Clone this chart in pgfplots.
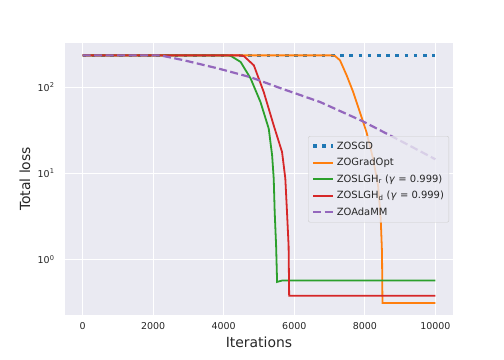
\documentclass[border=0pt]{standalone}
\usepackage{pgfplots}
\pgfplotsset{compat=1.18}
\usepackage{fontspec}
\setmainfont{DejaVu Sans}

\definecolor{bgcol}{HTML}{EAEAF2}
\definecolor{txt}{HTML}{262626}
\definecolor{c1}{HTML}{1F77B4}
\definecolor{c2}{HTML}{FF7F0E}
\definecolor{c3}{HTML}{2CA02C}
\definecolor{c4}{HTML}{D62728}
\definecolor{c5}{HTML}{9467BD}

\begin{document}
\begin{tikzpicture}
\path[use as bounding box] (0,0) rectangle (504bp,360bp);
\begin{axis}[
    at={(65bp,45bp)}, anchor=south west,
    scale only axis,
    width=388bp, height=272bp,
    ymode=log,
    xmin=-500, xmax=10500,
    ymin=0.227, ymax=327,
    xtick={0,2000,4000,6000,8000,10000},
    ytick={1,10,100},
    yticklabels={10\textsuperscript{0},10\textsuperscript{1},10\textsuperscript{2}},
    minor ytick={},
    scaled x ticks=false,
    /pgf/number format/assume math mode=true,
    /pgf/number format/1000 sep={},
    axis background/.style={fill=bgcol},
    axis line style={draw=none},
    major tick length=0pt, minor tick length=0pt,
    grid=major,
    major grid style={white, line width=1bp},
    ticklabel style={font=\fontsize{9.5}{11}\selectfont, text=txt},
    yticklabel style={xshift=-7bp},
    xticklabel style={yshift=-4bp},
    xlabel={Iterations}, ylabel={Total loss},
    label style={font=\fontsize{14}{16}\selectfont, text=txt},
    xlabel style={at={(axis description cs:0.5,-0.099)}, anchor=center},
    ylabel style={at={(axis description cs:-0.103,0.5)}, anchor=center},
    legend cell align=left,
    legend image code/.code={\draw[#1] (0bp,0bp) -- (20bp,0bp);},
    legend style={at={(0.99,0.658)}, anchor=north east,
        fill=bgcol, fill opacity=0.8, text opacity=1, draw=black!20,
        rounded corners=2bp, font=\fontsize{10}{12}\selectfont, text=txt,
        row sep=3.5bp, inner xsep=3bp, inner ysep=3.5bp},
]
\addplot[c1, line width=3.5bp, dash pattern=on 3.5bp off 5.7bp]
coordinates {(0,235) (10000,235)};
\addlegendentry{ZOSGD}
\addplot[c2, line width=1.8bp]
coordinates {(0,235) (7050,235) (7150,232) (7296,206) (7484,138) (7671,88)
 (7859,51.6) (8047,30.2) (8235,14.8) (8375,7.25) (8451,2.97) (8487,1.22)
 (8500,0.313) (10000,0.313)};
\addlegendentry{ZOGradOpt}
\addplot[c3, line width=1.8bp]
coordinates {(0,235) (4100,235) (4197,232) (4479,197) (4761,127) (5042,67.5)
 (5276,33.1) (5372,16.2) (5417,8.75) (5445,3.55) (5485,1.45) (5513,0.55)
 (5650,0.57) (10000,0.57)};
\addlegendentry{ZOSLGH\textsubscript{r} (\textit{γ} = 0.999)}
\addplot[c4, line width=1.8bp]
coordinates {(0,235) (4450,235) (4572,230) (4854,180) (5135,88) (5417,36.1)
 (5654,17.7) (5746,8.75) (5794,3.55) (5839,1.45) (5855,0.38) (10000,0.38)};
\addlegendentry{ZOSLGH\textsubscript{d} (\textit{γ} = 0.999)}
\addplot[c5, line width=2.2bp, dash pattern=on 8bp off 3.5bp]
coordinates {(0,235) (2200,235) (2873,206) (3831,166) (4761,131) (5690,95)
 (6000,86) (6732,67.5) (7944,40.3) (8986,24.2) (10000,14.6)};
\addlegendentry{ZOAdaMM}
\end{axis}
\end{tikzpicture}
\end{document}
